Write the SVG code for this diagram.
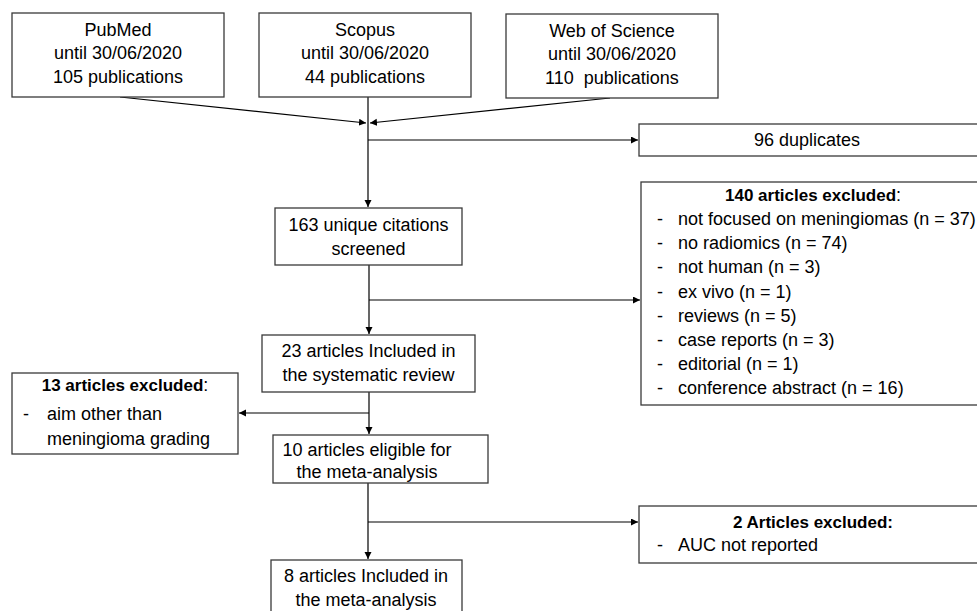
<svg xmlns="http://www.w3.org/2000/svg" width="977" height="611" viewBox="0 0 977 611">
<defs>
<marker id="ah" markerWidth="8" markerHeight="8" refX="7" refY="3.5" orient="auto" markerUnits="userSpaceOnUse">
<path d="M0,0 L7,3.5 L0,7 Z" fill="#000"/>
</marker>
<style>
.box{fill:#fff;stroke:#3a3a3a;stroke-width:1.3}
.t{font-family:"Liberation Sans",Arial,sans-serif;font-size:18px;fill:#000}
.c{text-anchor:middle}
.b{font-weight:bold;font-size:17px}
.con{fill:none;stroke:#000;stroke-width:1.2}
</style>
</defs>
<rect width="977" height="611" fill="#fff"/>

<g id="connectors">
<line class="con" x1="120" y1="97" x2="366" y2="123" marker-end="url(#ah)"/>
<line class="con" x1="610" y1="98" x2="370" y2="123" marker-end="url(#ah)"/>
<line class="con" x1="368" y1="97" x2="368" y2="207" marker-end="url(#ah)"/>
<line class="con" x1="368" y1="140" x2="638" y2="140" marker-end="url(#ah)"/>
<line class="con" x1="369" y1="265" x2="369" y2="334" marker-end="url(#ah)"/>
<line class="con" x1="369" y1="300" x2="640" y2="300" marker-end="url(#ah)"/>
<line class="con" x1="369" y1="392" x2="369" y2="434" marker-end="url(#ah)"/>
<line class="con" x1="369" y1="413" x2="239" y2="413" marker-end="url(#ah)"/>
<line class="con" x1="368" y1="483" x2="368" y2="559" marker-end="url(#ah)"/>
<line class="con" x1="368" y1="522" x2="638" y2="522" marker-end="url(#ah)"/>
</g>

<g id="pubmed">
<rect class="box" x="12" y="13" width="212" height="84"/>
<text class="t c" x="118" y="36">PubMed</text>
<text class="t c" x="118" y="59">until 30/06/2020</text>
<text class="t c" x="118" y="83">105 publications</text>
</g>

<g id="scopus">
<rect class="box" x="259" y="13" width="212" height="84"/>
<text class="t c" x="365" y="36">Scopus</text>
<text class="t c" x="365" y="59">until 30/06/2020</text>
<text class="t c" x="365" y="83">44 publications</text>
</g>

<g id="wos">
<rect class="box" x="506" y="14" width="212" height="84"/>
<text class="t c" x="612" y="37">Web of Science</text>
<text class="t c" x="612" y="60">until 30/06/2020</text>
<text class="t c" x="612" y="84" xml:space="preserve">110  publications</text>
</g>

<g id="duplicates">
<rect class="box" x="639" y="124" width="345" height="32"/>
<text class="t c" x="807" y="146">96 duplicates</text>
</g>

<g id="screened">
<rect class="box" x="275" y="208" width="187" height="57"/>
<text class="t c" x="368.5" y="231">163 unique citations</text>
<text class="t c" x="368.5" y="255">screened</text>
</g>

<g id="excluded140">
<rect class="box" x="641" y="182" width="345" height="223"/>
<text class="t c" x="813" y="201"><tspan class="b">140 articles excluded</tspan>:</text>
<g class="t">
<text x="657" y="225">-</text><text x="678" y="225">not focused on meningiomas (n = 37)</text>
<text x="657" y="249">-</text><text x="678" y="249">no radiomics (n = 74)</text>
<text x="657" y="273">-</text><text x="678" y="273">not human (n = 3)</text>
<text x="657" y="298">-</text><text x="678" y="298">ex vivo (n = 1)</text>
<text x="657" y="322">-</text><text x="678" y="322">reviews (n = 5)</text>
<text x="657" y="346">-</text><text x="678" y="346">case reports (n = 3)</text>
<text x="657" y="370">-</text><text x="678" y="370">editorial (n = 1)</text>
<text x="657" y="394">-</text><text x="678" y="394">conference abstract (n = 16)</text>
</g>
</g>

<g id="included23">
<rect class="box" x="262" y="335" width="213" height="57"/>
<text class="t c" x="368.5" y="357">23 articles Included in</text>
<text class="t c" x="368.5" y="381">the systematic review</text>
</g>

<g id="excluded13">
<rect class="box" x="12" y="373" width="226" height="81"/>
<text class="t c" x="125" y="391"><tspan class="b">13 articles excluded</tspan>:</text>
<text class="t" x="23" y="420">-</text>
<text class="t" x="47" y="420">aim other than</text>
<text class="t" x="47" y="445">meningioma grading</text>
</g>

<g id="eligible10">
<rect class="box" x="273" y="435" width="215" height="48"/>
<text class="t c" x="367" y="456">10 articles eligible for</text>
<text class="t c" x="367" y="478">the meta-analysis</text>
</g>

<g id="excluded2">
<rect class="box" x="639" y="506" width="345" height="57"/>
<text class="t c b" x="813" y="528">2 Articles excluded:</text>
<text class="t" x="657" y="551">-</text>
<text class="t" x="678" y="551">AUC not reported</text>
</g>

<g id="included8">
<rect class="box" x="271" y="560" width="191" height="60"/>
<text class="t c" x="366" y="582">8 articles Included in</text>
<text class="t c" x="366" y="606">the meta-analysis</text>
</g>
</svg>
